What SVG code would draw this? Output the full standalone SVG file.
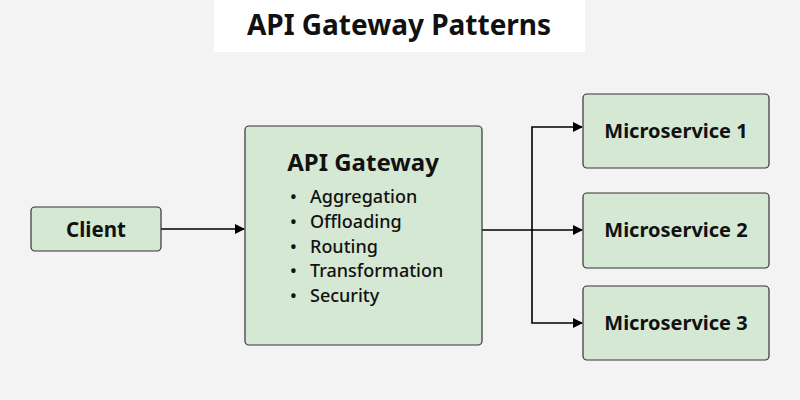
<svg xmlns="http://www.w3.org/2000/svg" width="800" height="400" viewBox="0 0 800 400">
<defs>
<marker id="arr" markerWidth="10" markerHeight="10" refX="9" refY="5" orient="auto" markerUnits="userSpaceOnUse">
<path d="M0,0 L10,5 L0,10 Z" fill="#000"/>
</marker>
<style>
.box{fill:#d5e8d4;stroke:#333;stroke-width:1.2}
.lbl{font-family:"Noto Sans",sans-serif;font-weight:bold;font-size:20px;fill:#111;text-anchor:middle}
.item{font-family:"Noto Sans",sans-serif;font-weight:500;font-size:18px;fill:#111}
.conn{fill:none;stroke:#000;stroke-width:1.6}
</style>
</defs>
<rect width="800" height="400" fill="#f3f3f3"/>
<g id="title">
<rect x="214" y="0" width="371" height="52" fill="#fff"/>
<text x="399" y="35" class="lbl" style="font-size:28px">API Gateway Patterns</text>
</g>
<g id="connectors">
<path class="conn" d="M161,229 H244" marker-end="url(#arr)"/>
<path class="conn" d="M482,230 H582" marker-end="url(#arr)"/>
<path class="conn" d="M532,230 V127 H582" marker-end="url(#arr)"/>
<path class="conn" d="M532,230 V323 H582" marker-end="url(#arr)"/>
</g>
<g id="client">
<rect class="box" x="31" y="207" width="130" height="44" rx="4"/>
<text x="96" y="237" class="lbl" style="font-size:20.5px">Client</text>
</g>
<g id="gateway">
<rect class="box" x="245" y="126" width="237" height="219" rx="4"/>
<text x="363" y="171" class="lbl" style="font-size:24px">API Gateway</text>
<g class="item">
<text x="290" y="203">•</text><text x="310" y="203">Aggregation</text>
<text x="290" y="228">•</text><text x="310" y="228">Offloading</text>
<text x="290" y="253">•</text><text x="310" y="253">Routing</text>
<text x="290" y="277">•</text><text x="310" y="277">Transformation</text>
<text x="290" y="302">•</text><text x="310" y="302">Security</text>
</g>
</g>
<g id="ms1">
<rect class="box" x="583" y="94" width="186" height="74" rx="4"/>
<text x="676" y="138" class="lbl">Microservice 1</text>
</g>
<g id="ms2">
<rect class="box" x="583" y="193" width="186" height="75" rx="4"/>
<text x="676" y="237" class="lbl">Microservice 2</text>
</g>
<g id="ms3">
<rect class="box" x="583" y="286" width="186" height="74" rx="4"/>
<text x="676" y="330" class="lbl">Microservice 3</text>
</g>
</svg>
